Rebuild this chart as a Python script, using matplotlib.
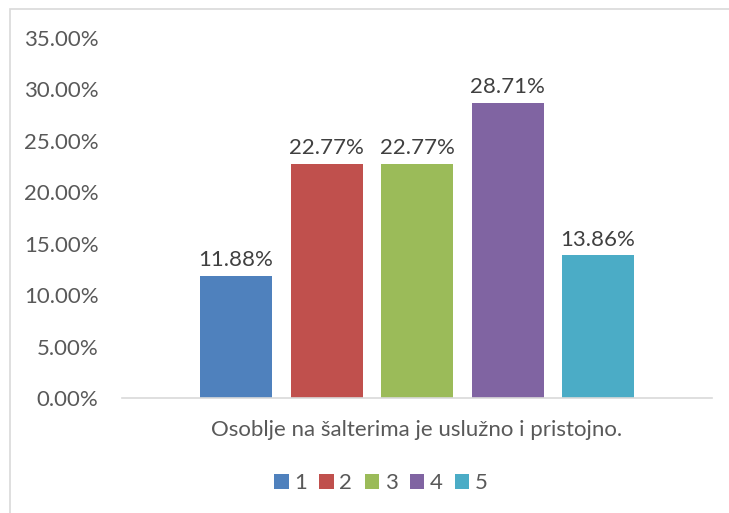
import matplotlib.pyplot as plt
from matplotlib.patches import Rectangle

plt.rcParams['font.family'] = ['Lato', 'DejaVu Sans']

series = ['1', '2', '3', '4', '5']
values = [0.1188, 0.2277, 0.2277, 0.2871, 0.1386]
colors = ['#4F81BD', '#C0504D', '#9BBB59', '#8064A2', '#4BACC6']
category = 'Osoblje na šalterima je uslužno i pristojno.'
yticks = [0, 0.05, 0.10, 0.15, 0.20, 0.25, 0.30, 0.35]

W, H = 729, 513
fig = plt.figure(figsize=(W / 100, H / 100), dpi=100)

# chart frame (cut off at right and bottom like the screenshot)
fig.patches.append(Rectangle((10 / W, -0.1), 1.2, (H - 9) / H + 0.1,
                             transform=fig.transFigure, fill=False,
                             edgecolor='#D9D9D9', linewidth=1.2))

ax = fig.add_axes([122 / W, 115 / H, 590 / W, 360 / H])
ax.set_xlim(-0.5, 0.5)
ax.set_ylim(0, 0.35)

fs = 16
step = 90.5 / 590
width = 72 / 590
handles = []
for i, (name, v, c) in enumerate(zip(series, values, colors)):
    x = (i - 2) * step
    b = ax.bar(x, v, width=width, color=c, label=name)
    handles.append(b)
    ax.annotate('{:.2f}%'.format(v * 100), (x, v), xytext=(0, 4),
                textcoords='offset points', ha='center', va='bottom',
                fontsize=fs, color='#404040')

ax.set_yticks(yticks)
ax.set_yticklabels(['{:.2f}%'.format(t * 100) for t in yticks],
                   fontsize=fs, color='#595959')
ax.tick_params(axis='y', length=0, pad=17)
ax.set_xticks([0])
ax.set_xticklabels([category], fontsize=fs, color='#595959')
ax.tick_params(axis='x', length=0, pad=16)

for s in ['left', 'right', 'top']:
    ax.spines[s].set_visible(False)
ax.spines['bottom'].set_color('#D9D9D9')
ax.spines['bottom'].set_linewidth(1.2)

fig.legend(handles=handles, labels=series, loc='center',
           bbox_to_anchor=(381 / W, (H - 483) / H), ncol=5, frameon=False,
           fontsize=fs, handlelength=0.65, handleheight=0.65,
           handletextpad=0.25, columnspacing=0.55, labelcolor='#595959')

fig.savefig('out.png', dpi=100)
